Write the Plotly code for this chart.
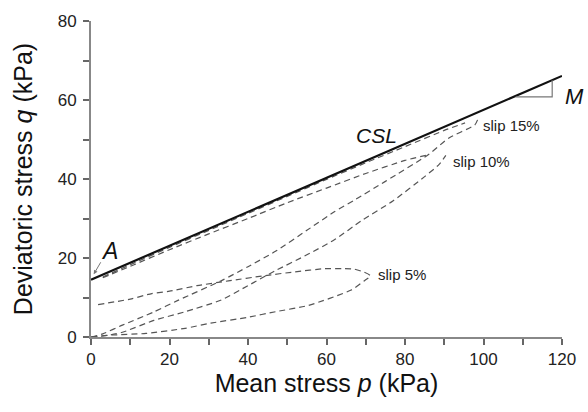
import plotly.graph_objects as go

# ---- data (kPa) ----
csl_p = [0, 30, 60, 90, 120]
csl_q = [14.5, 27.4, 40.3, 53.2, 66.1]

# slip 5% loop: upper branch then lower branch back to origin
s5_p = [1.8, 10, 15.5, 20, 27, 35, 44, 52, 59.6, 64, 67, 69.6, 71.2,
        69.6, 66.3, 55.4, 47, 40, 30.5, 24, 14, 5.5, 0]
s5_q = [8.2, 9.6, 11.0, 11.6, 13.0, 14.2, 15.5, 16.5, 17.3, 17.3, 17.2, 16.4, 15.5,
        14.2, 11.9, 8.0, 6.4, 5.0, 3.5, 2.2, 0.9, 0.5, 0]

# slip 10%: upper branch (just below CSL) and lower branch
s10u_p = [3, 10, 20, 30, 40, 50, 60, 70, 80, 86.2]
s10u_q = [15.0, 17.9, 22.1, 26.1, 30.0, 34.0, 37.7, 41.4, 44.7, 46.2]
s10l_p = [0, 4, 8, 16, 24, 33, 40, 47, 55, 62, 69, 77, 85, 88.7, 90.4]
s10l_q = [0, 0.4, 1.2, 4.2, 6.4, 9.3, 13.0, 16.8, 20.8, 24.6, 29.5, 34.5, 40.6, 43.7, 46.0]

# slip 15%: upper branch (hugging CSL) and lower branch
s15u_p = [3, 10, 20, 30, 40, 50, 60, 70, 80, 90, 95.3]
s15u_q = [15.2, 18.3, 22.7, 27.0, 31.3, 35.6, 39.9, 44.1, 48.2, 52.3, 54.2]
s15l_p = [0, 3, 8, 15.9, 22, 33.5, 40, 47, 55, 62, 67, 75, 86, 91.2, 97.8, 98.5]
s15l_q = [0, 0.8, 3.0, 6.3, 9.2, 14.4, 17.8, 21.7, 27.0, 31.7, 34.6, 39.4, 46.2, 50.4, 53.7, 55.0]

slip_labels = ["slip 5%", "slip 10%", "slip 15%"]
slip_label_pos = [(72.5, 15.7), (91.8, 44.4), (99.3, 53.6)]

x_ticks = list(range(0, 121, 10))
y_ticks = list(range(0, 81, 10))

FONT = "Arial, Liberation Sans"

fig = go.Figure()

dash_style = dict(color="#555555", width=1.2, dash="6px,4px", shape="spline", smoothing=0.6)
for px_, qy_ in [(s5_p, s5_q), (s10u_p, s10u_q), (s10l_p, s10l_q),
                 (s15u_p, s15u_q), (s15l_p, s15l_q)]:
    fig.add_trace(go.Scatter(x=px_, y=qy_, mode="lines", line=dash_style,
                             showlegend=False, hoverinfo="skip"))

fig.add_trace(go.Scatter(x=csl_p, y=csl_q, mode="lines",
                         line=dict(color="#111111", width=2.2), showlegend=False))

# slope triangle for M
tri_p = [108.2, 117.5, 117.5]
tri_q = [60.8, 60.8, 65.0]
fig.add_trace(go.Scatter(x=tri_p, y=tri_q, mode="lines",
                         line=dict(color="#777777", width=1.2), showlegend=False))

for txt, (lp, lq) in zip(slip_labels, slip_label_pos):
    fig.add_annotation(x=lp, y=lq, text=txt, showarrow=False, xanchor="left",
                       yanchor="middle", font=dict(size=15, color="#222222", family=FONT))

fig.add_annotation(x=72.8, y=51.1, text="<i>CSL</i>", showarrow=False,
                   font=dict(size=21, color="#111111", family=FONT))
fig.add_annotation(x=123.2 / 120, y=61 / 80, xref="paper", yref="paper", text="<i>M</i>",
                   xanchor="center", yanchor="middle",
                   showarrow=False, font=dict(size=22, color="#111111", family=FONT))
fig.add_annotation(x=4.6, y=21.7, text="<i>A</i>", showarrow=False,
                   font=dict(size=23, color="#111111", family=FONT))
fig.add_annotation(x=0.7, y=15.9, ax=2.7, ay=19.3, axref="x", ayref="y",
                   text="", showarrow=True, arrowhead=2, arrowsize=0.8,
                   arrowwidth=1, arrowcolor="#777777")

axis_common = dict(showline=True, linecolor="#888888", linewidth=2,
                   ticks="outside", ticklen=6, tickwidth=1.5, tickcolor="#666666",
                   showgrid=False, zeroline=False,
                   tickfont=dict(size=17, color="#222222", family=FONT))

fig.update_xaxes(range=[0, 120], tickvals=x_ticks,
                 ticktext=[str(v) if v % 20 == 0 else "" for v in x_ticks],
                 title=dict(text="Mean stress <i>p</i> (kPa)", standoff=6,
                            font=dict(size=25, color="#111111", family=FONT)),
                 **axis_common)
fig.update_yaxes(range=[0, 80], tickvals=y_ticks,
                 ticktext=[str(v) if v % 20 == 0 else "" for v in y_ticks],
                 ticklabelstandoff=3,
                 title=dict(text="Deviatoric stress <i>q</i> (kPa)", standoff=18,
                            font=dict(size=25, color="#111111", family=FONT)),
                 **axis_common)

fig.update_layout(width=588, height=412, margin=dict(l=91, r=16, t=16, b=75),
                  paper_bgcolor="white", plot_bgcolor="white")

fig.write_html("out.html")
